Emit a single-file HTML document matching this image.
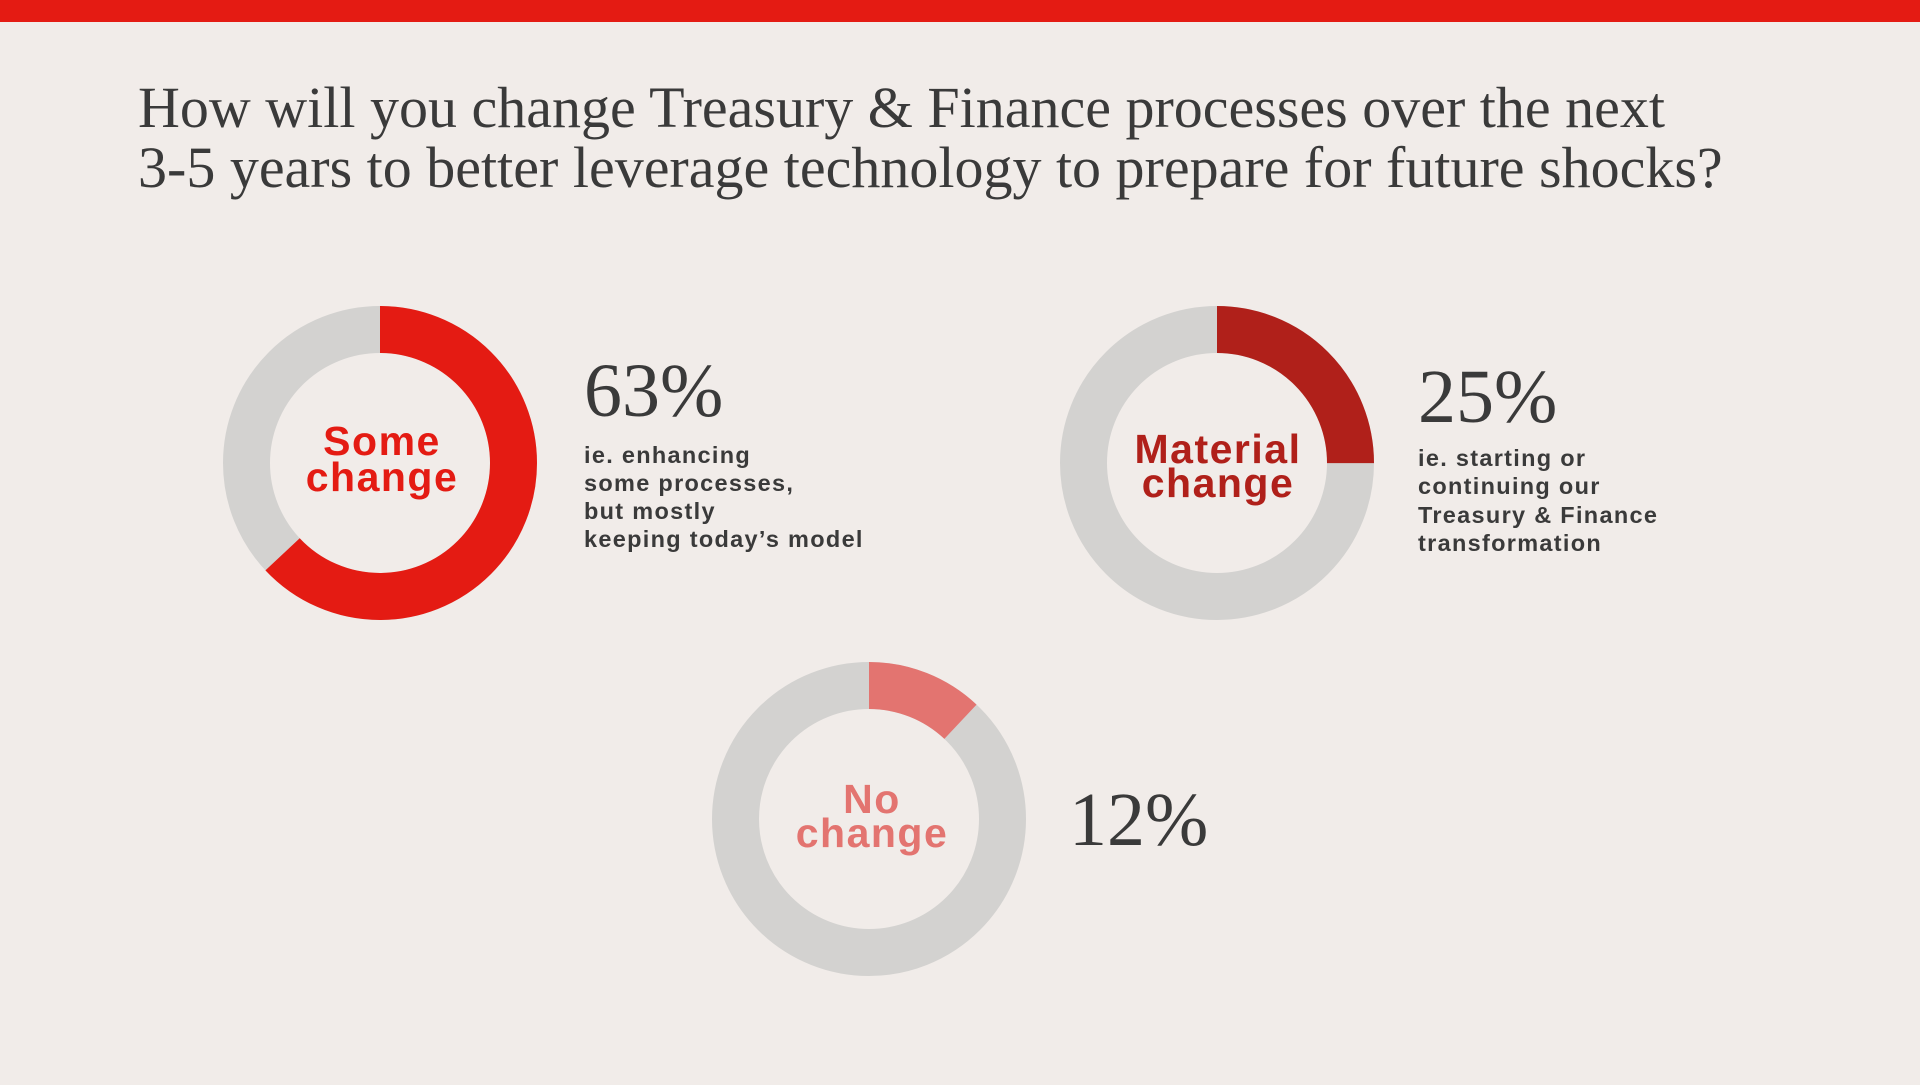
<!DOCTYPE html>
<html><head><meta charset="utf-8"><style>
html,body{margin:0;padding:0;background:#f1ece9;}
body{width:1920px;height:1080px;overflow:hidden;}
</style></head><body>
<svg width="1920" height="1080" xmlns="http://www.w3.org/2000/svg">
<rect width="1920" height="1080" fill="#f1ece9"/>
<rect width="1920" height="22" fill="#e41b13"/>
<g font-family="Liberation Serif, serif" fill="#3a3a3a" font-size="58">
<text x="138" y="127">How will you change Treasury &amp; Finance processes over the next</text>
<text x="138" y="187">3-5 years to better leverage technology to prepare for future shocks?</text>
</g>
<g fill="none" stroke-width="47">
<circle cx="380" cy="463" r="133.5" stroke="#d3d2d0"/>
<circle cx="380" cy="463" r="133.5" stroke="#e41b13" stroke-dasharray="528.4 1000" transform="rotate(-90 380 463)"/>
<circle cx="1217" cy="463" r="133.5" stroke="#d3d2d0"/>
<circle cx="1217" cy="463" r="133.5" stroke="#b0201a" stroke-dasharray="209.7 1000" transform="rotate(-90 1217 463)"/>
<circle cx="869" cy="819" r="133.5" stroke="#d3d2d0"/>
<circle cx="869" cy="819" r="133.5" stroke="#e37470" stroke-dasharray="100.7 1000" transform="rotate(-90 869 819)"/>
</g>
<g font-family="Liberation Sans, sans-serif" font-weight="bold" font-size="41" letter-spacing="1.5" text-anchor="middle">
<text x="382" y="455" fill="#e41b13">Some</text><text x="382" y="491" fill="#e41b13">change</text>
<text x="1218" y="463" fill="#b0201a">Material</text><text x="1218" y="497" fill="#b0201a">change</text>
<text x="872" y="813" fill="#e37470">No</text><text x="872" y="847" fill="#e37470">change</text>
</g>
<g font-family="Liberation Sans, sans-serif" font-weight="bold" fill="#3a3a3a" font-size="23.5" letter-spacing="1.3">
<text x="584" y="463">ie. enhancing</text>
<text x="584" y="491">some processes,</text>
<text x="584" y="519">but mostly</text>
<text x="584" y="547">keeping today’s model</text>
<text x="1418" y="466">ie. starting or</text>
<text x="1418" y="494">continuing our</text>
<text x="1418" y="523">Treasury &amp; Finance</text>
<text x="1418" y="551">transformation</text>
</g>
<g font-family="Liberation Serif, serif" fill="#3a3a3a" font-size="76">
<text x="584" y="416">63%</text>
<text x="1418" y="422">25%</text>
<text x="1069" y="845">12%</text>
</g>
</svg>
</body></html>
